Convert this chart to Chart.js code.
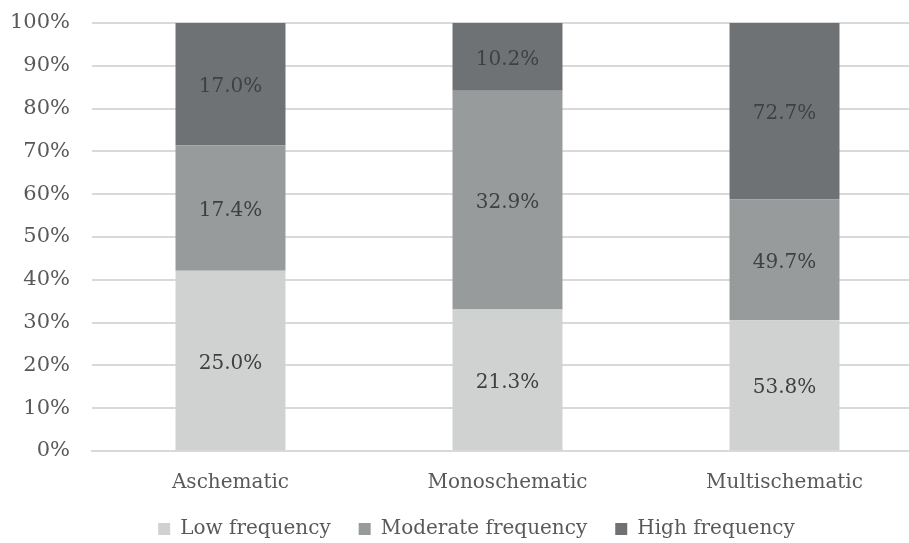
<!DOCTYPE html>
<html>
<head>
<meta charset="utf-8">
<script src="https://cdn.jsdelivr.net/npm/chart.js@4/dist/chart.umd.min.js"></script>
<style>
  html, body { margin: 0; padding: 0; background: #fff; overflow: hidden; }
  #wrap { width: 923px; height: 543px; }
</style>
</head>
<body>
<div id="wrap"><canvas id="c"></canvas></div>
<script>
// Schema groups and the share of each usage frequency (raw percentages)
const categories = ['Aschematic', 'Monoschematic', 'Multischematic'];
const seriesNames = ['Low frequency', 'Moderate frequency', 'High frequency'];
const lowFrequency = [25.0, 21.3, 53.8];
const moderateFrequency = [17.4, 32.9, 49.7];
const highFrequency = [17.0, 10.2, 72.7];
const yTicks = [0, 10, 20, 30, 40, 50, 60, 70, 80, 90, 100];

const rawSeries = [lowFrequency, moderateFrequency, highFrequency];
const colors = ['#d0d2d1', '#989b9b', '#6f7275'];
const FONT = "'DejaVu Serif', serif";

// Normalise each column to 100% (stacked 100% bar)
const totals = categories.map((_, i) => rawSeries.reduce((s, arr) => s + arr[i], 0));
const datasets = rawSeries.map((arr, k) => ({
  label: seriesNames[k],
  raw: arr,
  data: arr.map((v, i) => v / totals[i] * 100),
  backgroundColor: colors[k],
  borderWidth: 0,
  barPercentage: 0.397,
  categoryPercentage: 1.0
}));

// Writes the raw value in the middle of each segment
const segmentLabels = {
  id: 'segmentLabels',
  afterDatasetsDraw(chart) {
    const ctx = chart.ctx;
    ctx.save();
    ctx.font = "20px " + FONT;
    ctx.fillStyle = '#404040';
    ctx.textAlign = 'center';
    ctx.textBaseline = 'middle';
    chart.data.datasets.forEach((ds, k) => {
      chart.getDatasetMeta(k).data.forEach((bar, i) => {
        const mid = (bar.y + bar.base) / 2 + 3;
        ctx.fillText(ds.raw[i].toFixed(1) + '%', bar.x, mid);
      });
    });
    ctx.restore();
  }
};

// Centres the legend on the visible page width rather than the wider canvas
const legendOffset = {
  id: 'legendOffset',
  afterLayout(chart) {
    if (chart.legend) {
      chart.legend.left += 15;
      chart.legend.right += 15;
    }
  }
};

new Chart(document.getElementById('c'), {
  type: 'bar',
  data: { labels: categories, datasets },
  plugins: [segmentLabels, legendOffset],
  options: {
    responsive: true,
    maintainAspectRatio: false,
    animation: false,
    layout: { padding: { top: 0, left: 0, right: 0, bottom: -6 } },
    plugins: {
      tooltip: { enabled: false },
      legend: {
        position: 'bottom',
        labels: {
          font: { family: FONT, size: 20 },
          color: '#595959',
          boxWidth: 12,
          boxHeight: 12,
          padding: 28
        }
      }
    },
    scales: {
      x: {
        stacked: true,
        grid: { display: false, drawTicks: false },
        border: { color: '#d9d9d9', width: 2 },
        ticks: { font: { family: FONT, size: 20 }, color: '#595959', padding: 20 },
        afterFit(scale) { scale.height = 40; }
      },
      y: {
        stacked: true,
        min: 0,
        max: 100,
        afterBuildTicks(scale) { scale.ticks = yTicks.map(v => ({ value: v })); },
        grid: { color: '#d9d9d9', lineWidth: 2, drawTicks: false },
        border: { display: false },
        ticks: {
          font: { family: FONT, size: 21 },
          color: '#595959',
          padding: 22,
          callback: v => v + '%'
        },
        afterFit(scale) {
          scale.width = 92;
          scale.paddingTop = 23;
          scale.paddingBottom = 0;
        }
      }
    }
  }
});
</script>
</body>
</html>
